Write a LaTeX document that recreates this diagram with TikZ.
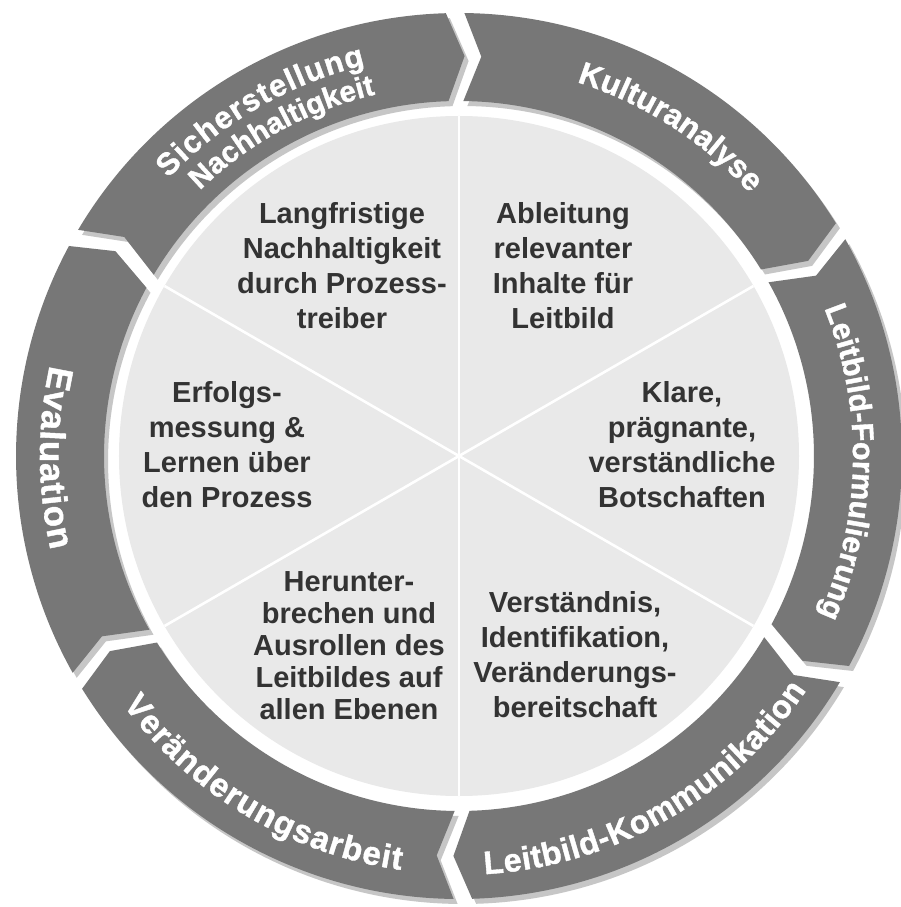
\documentclass[tikz,border=0pt]{standalone}
\usepackage{fontspec}
\setmainfont{Liberation Sans}
\newfontfamily\ringfont[FakeBold=1.2]{Liberation Sans Bold}
\usetikzlibrary{decorations.text}
\definecolor{ringgray}{HTML}{777777}
\definecolor{shadowgray}{HTML}{C6C6C6}
\definecolor{diskgray}{HTML}{E9E9E9}
\definecolor{textdark}{HTML}{333333}
\newcommand\rf[1]{\ringfont\fontsize{#1}{#1}\selectfont}
\tikzset{
  inner text/.style={text=textdark, align=center, inner sep=0pt,
    font=\fontsize{29}{35}\selectfont\bfseries},
  ring text/.style={decorate, decoration={text along path, text align={fit to path},
    text color=white, text={#1}}},
  divider/.style={white, line width=2.6pt}
}
\begin{document}
\begin{tikzpicture}
\useasboundingbox (-459pt,-451pt) rectangle (442pt,456pt);
\fill[white] (-459pt,-451pt) rectangle (442pt,456pt);

% inner disk
\fill[diskgray] (0,0) circle[radius=340pt];
\foreach \a in {90,30,-30,-90,-150,150}
  \draw[divider] (0,0) -- (\a:340pt);

% ring segments: shadows
\foreach \s/\e in {89.3/31.7, 29.3/-28.3, -30.7/-88.3, -90.7/-148.3, 209.3/151.7, 149.3/91.7}
  \fill[shadowgray, shift={(4pt,-5pt)}] (\s:443pt) arc[start angle=\s, end angle=\e, radius=443pt]
    -- ({\e-2.5}:400pt) -- (\e:355pt) arc[start angle=\e, end angle=\s, radius=355pt]
    -- ({\s-2.5}:400pt) -- cycle;
% ring segments
\foreach \s/\e in {89.3/31.7, 29.3/-28.3, -30.7/-88.3, -90.7/-148.3, 209.3/151.7, 149.3/91.7}
  \fill[ringgray] (\s:443pt) arc[start angle=\s, end angle=\e, radius=443pt]
    -- ({\e-2.5}:400pt) -- (\e:355pt) arc[start angle=\e, end angle=\s, radius=355pt]
    -- ({\s-2.5}:400pt) -- cycle;

% ring labels
\path[ring text={|\rf{31}|Sicherstellung}] (136.3:402pt) arc[start angle=136.3, end angle=103.5, radius=402pt];
\path[ring text={|\rf{29.5}|Nachhaltigkeit}] (134.3:371pt) arc[start angle=134.3, end angle=103, radius=371pt];
\path[ring text={|\rf{31.5}|Kulturanalyse}] (72.5:392pt) arc[start angle=72.5, end angle=42.5, radius=392pt];
\path[ring text={|\rf{30.5}|Leitbild-Formulierung}] (22:394pt) arc[start angle=22, end angle=-23, radius=394pt];
\path[ring text={|\rf{32.5}|Leitbild-Kommunikation}] (-86.5:419pt) arc[start angle=-86.5, end angle=-34, radius=419pt];
\path[ring text={|\rf{33}|Veränderungsarbeit}] (-143.5:418pt) arc[start angle=-143.5, end angle=-98, radius=418pt];
\path[ring text={|\rf{35}|Evaluation}] (167.5:419pt) arc[start angle=167.5, end angle=193, radius=419pt];

% inner texts
\node[inner text] (t1) at (-117pt,190pt) {Langfristige\\Nachhaltigkeit\\durch Prozess-\\treiber};
\node[inner text] (t2) at (104pt,190pt) {Ableitung\\relevanter\\Inhalte für\\Leitbild};
\node[inner text] (t3) at (223pt,11pt) {Klare,\\prägnante,\\verständliche\\Botschaften};
\node[inner text] (t4) at (116pt,-199pt) {Verständnis,\\Identifikation,\\Veränderungs-\\bereitschaft};
\node[inner text, font=\fontsize{29}{32}\selectfont\bfseries] (t5) at (-110pt,-190pt) {Herunter-\\brechen und\\Ausrollen des\\Leitbildes auf\\allen Ebenen};
\node[inner text] (t6) at (-232pt,11pt) {Erfolgs-\\messung \&\\Lernen über\\den Prozess};
\end{tikzpicture}
\end{document}
